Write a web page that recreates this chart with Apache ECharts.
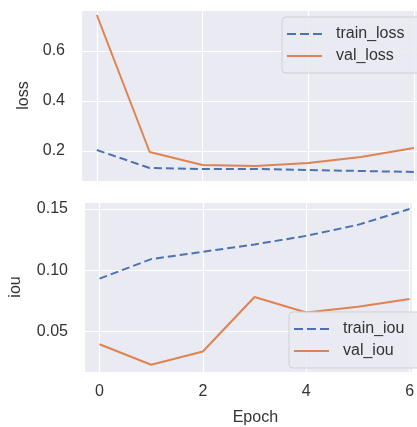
<!DOCTYPE html>
<html><head><meta charset="utf-8">
<script src="https://cdn.jsdelivr.net/npm/echarts@6/dist/echarts.min.js"></script>
<style>html,body{margin:0;padding:0;background:#fff}#c{width:417px;height:427px}</style>
</head><body><div id="c"></div>
<script>
const epochs = [0, 1, 2, 3, 4, 5, 6];
const trainLoss = [0.204, 0.132, 0.128, 0.128, 0.124, 0.120, 0.116];
const valLoss = [0.744, 0.196, 0.144, 0.140, 0.152, 0.176, 0.212];
const trainIou = [0.093, 0.109, 0.115, 0.121, 0.128, 0.137, 0.150];
const valIou = [0.0394, 0.0226, 0.0335, 0.078, 0.0653, 0.070, 0.0764];
const xTicks = [0, 2, 4, 6];

const BLUE = '#4c72b0', ORANGE = '#dd8452', TXT = '#333333';
const FONT = 'Liberation Sans, Arial, sans-serif';
const pair = (xs, ys) => xs.map((x, i) => [x, ys[i]]);
const DASH_ICON = 'path://M0,0h9v2h-9z M13,0h9v2h-9z M26,0h9v2h-9z';

const chart = echarts.init(document.getElementById('c'), null, {renderer: 'canvas'});
function xAxis(idx, showLabels) {
  return {
    type: 'value', gridIndex: idx, min: -0.3, max: 6.06, splitNumber: 3,
    axisLine: {show: false}, axisTick: {show: false},
    splitLine: {show: true, lineStyle: {color: '#ffffff', width: 1.2}},
    axisLabel: {show: showLabels, color: TXT, fontSize: 16, fontFamily: FONT, margin: 12,
      showMinLabel: false, showMaxLabel: false, hideOverlap: false,
      formatter: v => xTicks.includes(v) ? String(v) : ''},
    name: showLabels ? 'Epoch' : '', nameLocation: 'middle', nameGap: 38,
    nameTextStyle: {color: TXT, fontSize: 16, fontFamily: FONT, padding: [0, 0, 0, 14]}
  };
}
function yAxis(idx, min, max, name, gap, digits) {
  return {
    type: 'value', gridIndex: idx, min: min, max: max, splitNumber: 3,
    axisLine: {show: false}, axisTick: {show: false},
    splitLine: {show: true, lineStyle: {color: '#ffffff', width: 1.2}},
    axisLabel: {color: TXT, fontSize: 16, fontFamily: FONT, margin: 16,
      showMinLabel: false, showMaxLabel: false,
      formatter: v => v.toFixed(digits)},
    name: name, nameLocation: 'middle', nameGap: gap,
    nameTextStyle: {color: TXT, fontSize: 16, fontFamily: FONT}
  };
}
const legendBase = {
  orient: 'vertical', itemWidth: 35, itemHeight: 2, itemGap: 6,
  backgroundColor: 'rgba(234,234,242,0.85)', borderColor: '#cfcfd6', borderWidth: 1, borderRadius: 4,
  textStyle: {color: TXT, fontSize: 16, fontFamily: FONT, padding: [0, 0, 0, 9]}
};
function lineSeries(name, data, color, dashed, xi, yi) {
  return {
    type: 'line', name: name, data: data, xAxisIndex: xi, yAxisIndex: yi,
    showSymbol: false, symbol: 'none', smooth: false, clip: false,
    lineStyle: {color: color, width: 2, type: dashed ? [8, 4] : 'solid'},
    itemStyle: {color: color}
  };
}
chart.setOption({
  backgroundColor: '#ffffff',
  animation: false,
  grid: [
    {left: 81, top: 10, right: 0, height: 171, backgroundColor: '#eaeaf2', show: true, borderWidth: 0},
    {left: 81, top: 202, right: 0, height: 171, backgroundColor: '#eaeaf2', show: true, borderWidth: 0}
  ],
  xAxis: [xAxis(0, false), xAxis(1, true)],
  yAxis: [yAxis(0, 0.08, 0.764, 'loss', 47, 1), yAxis(1, 0.0167, 0.1557, 'iou', 60, 2)],
  legend: [
    Object.assign({}, legendBase, {left: 282, top: 17, padding: [9, 20, 9, 5],
      data: [{name: 'train_loss', icon: DASH_ICON}, {name: 'val_loss', icon: 'rect'}]}),
    Object.assign({}, legendBase, {left: 289, top: 312, padding: [9, 20, 9, 5],
      data: [{name: 'train_iou', icon: DASH_ICON}, {name: 'val_iou', icon: 'rect'}]})
  ],
  series: [
    lineSeries('train_loss', pair(epochs, trainLoss), BLUE, true, 0, 0),
    lineSeries('val_loss', pair(epochs, valLoss), ORANGE, false, 0, 0),
    lineSeries('train_iou', pair(epochs, trainIou), BLUE, true, 1, 1),
    lineSeries('val_iou', pair(epochs, valIou), ORANGE, false, 1, 1)
  ]
});
</script></body></html>
